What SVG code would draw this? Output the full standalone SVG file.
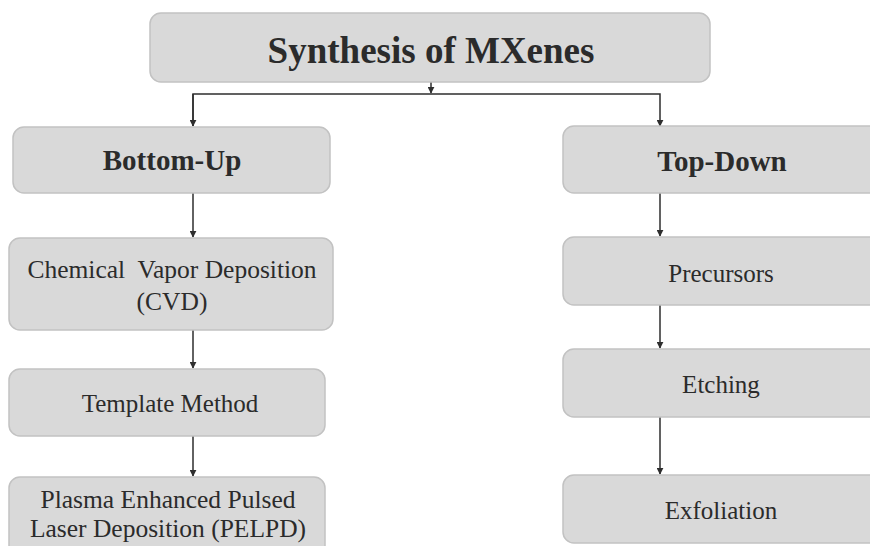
<svg xmlns="http://www.w3.org/2000/svg" width="870" height="546" viewBox="0 0 870 546">
<defs>
<marker id="ah" viewBox="0 0 10 10" refX="9" refY="5" markerWidth="7" markerHeight="7" markerUnits="userSpaceOnUse" orient="auto">
<path d="M0,0 L10,5 L0,10 z" fill="#2e2e2e"/>
</marker>
<style>
.box{fill:#d9d9d9;stroke:#c2c2c2;stroke-width:1.5}
.t{font-family:"Liberation Serif","Times New Roman",serif;fill:#2b2b2b;text-anchor:middle}
.b{font-weight:bold}
.c{stroke:#2e2e2e;stroke-width:1.5;fill:none}
</style>
</defs>
<rect width="870" height="546" fill="#ffffff"/>
<g id="connectors">
<path class="c" d="M431,82 V93" marker-end="url(#ah)"/>
<path class="c" d="M193,126 V94 H660 V126" marker-end="url(#ah)"/>
<path class="c" d="M193,94 V126" marker-end="url(#ah)"/>
<path class="c" d="M193,193 V237" marker-end="url(#ah)"/>
<path class="c" d="M193,330 V368" marker-end="url(#ah)"/>
<path class="c" d="M193,436 V476" marker-end="url(#ah)"/>
<path class="c" d="M660,193 V236" marker-end="url(#ah)"/>
<path class="c" d="M660,305 V348" marker-end="url(#ah)"/>
<path class="c" d="M660,417 V474" marker-end="url(#ah)"/>
</g>
<g id="synthesis">
<rect class="box" x="150" y="13" width="560" height="69" rx="11"/>
<text class="t b" x="431" y="63" font-size="37">Synthesis of MXenes</text>
</g>
<g id="bottom-up">
<rect class="box" x="13" y="127" width="317" height="66" rx="11"/>
<text class="t b" x="172" y="170" font-size="29">Bottom-Up</text>
</g>
<g id="cvd">
<rect class="box" x="9" y="238" width="324" height="92" rx="11"/>
<text class="t" x="172" y="278" font-size="25.5" xml:space="preserve">Chemical  Vapor Deposition</text>
<text class="t" x="172" y="310" font-size="25.5">(CVD)</text>
</g>
<g id="template">
<rect class="box" x="9" y="369" width="316" height="67" rx="11"/>
<text class="t" x="170" y="412" font-size="25">Template Method</text>
</g>
<g id="pelpd">
<rect class="box" x="9" y="477" width="316" height="80" rx="11"/>
<text class="t" x="168" y="508" font-size="25.5">Plasma Enhanced Pulsed</text>
<text class="t" x="168" y="537" font-size="25.5">Laser Deposition (PELPD)</text>
</g>
<g id="top-down">
<rect class="box" x="563" y="126" width="320" height="67" rx="11"/>
<text class="t b" x="722" y="171" font-size="29">Top-Down</text>
</g>
<g id="precursors">
<rect class="box" x="563" y="237" width="320" height="68" rx="11"/>
<text class="t" x="721" y="282" font-size="25">Precursors</text>
</g>
<g id="etching">
<rect class="box" x="563" y="349" width="320" height="68" rx="11"/>
<text class="t" x="721" y="393" font-size="25">Etching</text>
</g>
<g id="exfoliation">
<rect class="box" x="563" y="475" width="320" height="68" rx="11"/>
<text class="t" x="721" y="519" font-size="25">Exfoliation</text>
</g>
</svg>
